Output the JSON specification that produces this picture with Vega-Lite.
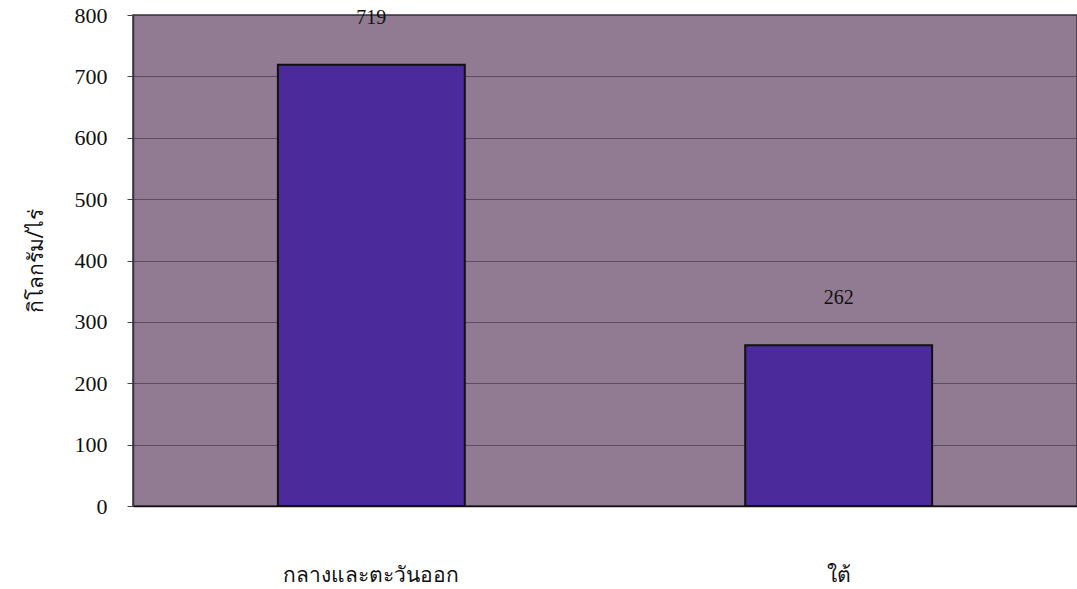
{
  "$schema": "https://vega.github.io/schema/vega-lite/v6.json",
  "width": 944,
  "height": 491,
  "autosize": "none",
  "padding": {"left": 133, "top": 15, "right": 0, "bottom": 83},
  "background": "white",
  "data": {"values": [
    {"region": "กลางและตะวันออก", "value": 719},
    {"region": "ใต้", "value": 262}
  ]},
  "config": {
    "view": {"fill": "#907b92", "stroke": "#3a3040", "strokeWidth": 1.5},
    "font": "Liberation Serif"
  },
  "encoding": {
    "x": {"field": "region", "type": "nominal", "sort": null,
      "scale": {"paddingInner": 0.6, "paddingOuter": 0.31},
      "axis": {"title": null, "labelAngle": 0, "labelPadding": 58, "labelFontSize": 21, "labelFont": "Noto Sans", "labelColor": "#111", "ticks": false, "domainColor": "#111", "domainWidth": 1.5}},
    "y": {"field": "value", "type": "quantitative",
      "scale": {"domain": [0, 800]},
      "axis": {"title": "กิโลกรัม/ไร่", "titleFont": "Noto Sans", "titleFontSize": 21, "titleFontWeight": "normal", "titleColor": "#111", "titlePadding": 28,
        "values": [0,100,200,300,400,500,600,700,800], "labelFontSize": 22, "labelFontWeight": "normal", "labelColor": "#111", "labelPadding": 20,
        "gridColor": "#4a3d4e", "gridWidth": 1, "gridOpacity": 0.75, "tickColor": "#4a3d4e", "tickSize": 6, "domainColor": "#3a3040", "domainWidth": 1.5}}
  },
  "layer": [
    {"mark": {"type": "bar", "color": "#4b2b9c", "stroke": "#111", "strokeWidth": 2}},
    {"mark": {"type": "text", "dy": -47, "fontSize": 20, "fontWeight": "normal", "color": "#111"},
     "encoding": {"text": {"field": "value", "type": "quantitative"}}}
  ]
}
